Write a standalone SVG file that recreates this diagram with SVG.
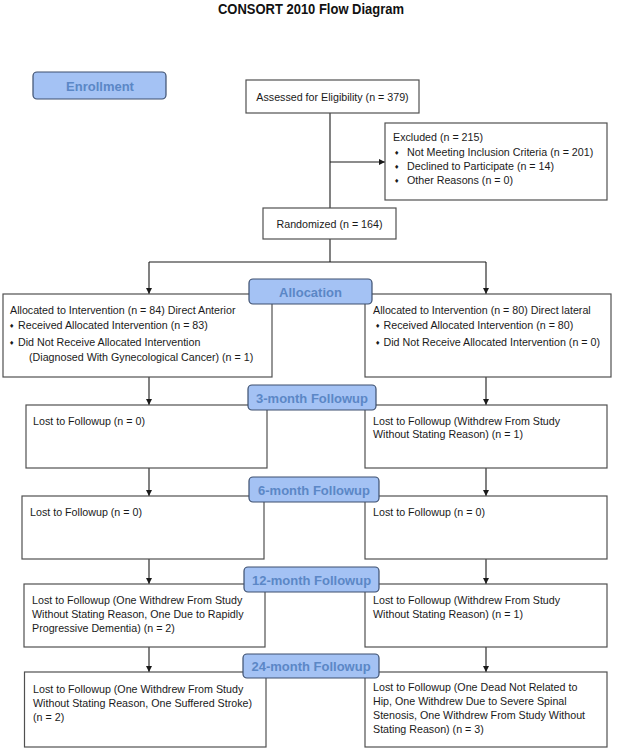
<svg xmlns="http://www.w3.org/2000/svg" width="620" height="750" viewBox="0 0 620 750">
<style>
.bg{fill:#ffffff}
.box{fill:#ffffff;stroke:#505050;stroke-width:1.2}
.lbl{fill:#a4c2f4;stroke:#3d4f6e;stroke-width:1.2}
.lt{font-family:"Liberation Sans",Arial,sans-serif;font-size:13px;font-weight:bold;fill:#5b87c6;text-anchor:middle}
.t{font-family:"Liberation Sans",Arial,sans-serif;font-size:10.7px;fill:#1a1a1a}
.c{text-anchor:middle}
.b{font-family:"DejaVu Sans",sans-serif;font-size:6px;fill:#1a1a1a}
.ln{fill:none;stroke:#1a1a1a;stroke-width:1.1}
.title{font-family:"Liberation Sans",Arial,sans-serif;font-size:14px;font-weight:bold;fill:#111;text-anchor:middle}
</style>
<defs>
<marker id="ah" viewBox="0 0 10 10" refX="10" refY="5" markerWidth="6" markerHeight="6" markerUnits="userSpaceOnUse" orient="auto">
<path d="M0,0 L10,5 L0,10 z" fill="#1a1a1a"/>
</marker>
</defs>
<rect class="bg" x="0" y="0" width="620" height="750"/>
<text class="title" x="311" y="14" textLength="186" lengthAdjust="spacingAndGlyphs">CONSORT 2010 Flow Diagram</text>

<g id="connectors">
<line class="ln" x1="330" y1="113" x2="330" y2="208"/>
<line class="ln" x1="330" y1="162" x2="385" y2="162" marker-end="url(#ah)"/>
<polyline class="ln" points="330,239 330,262"/>
<line class="ln" x1="149" y1="262" x2="486" y2="262"/>
<line class="ln" x1="149" y1="262" x2="149" y2="294" marker-end="url(#ah)"/>
<line class="ln" x1="486" y1="262" x2="486" y2="294" marker-end="url(#ah)"/>
<line class="ln" x1="149" y1="377" x2="149" y2="405" marker-end="url(#ah)"/>
<line class="ln" x1="486" y1="377" x2="486" y2="405" marker-end="url(#ah)"/>
<line class="ln" x1="149" y1="468" x2="149" y2="496" marker-end="url(#ah)"/>
<line class="ln" x1="486" y1="468" x2="486" y2="496" marker-end="url(#ah)"/>
<line class="ln" x1="149" y1="559" x2="149" y2="584" marker-end="url(#ah)"/>
<line class="ln" x1="486" y1="559" x2="486" y2="584" marker-end="url(#ah)"/>
<line class="ln" x1="149" y1="647" x2="149" y2="672" marker-end="url(#ah)"/>
<line class="ln" x1="486" y1="647" x2="486" y2="672" marker-end="url(#ah)"/>
</g>

<g id="enrollment">
<rect class="lbl" x="33" y="72" width="133" height="27" rx="4"/>
<text class="lt" x="100" y="90.5">Enrollment</text>
</g>

<g id="assessed">
<rect class="box" x="246" y="80" width="173" height="33"/>
<text class="t c" x="332.5" y="100.5">Assessed for Eligibility (n = 379)</text>
</g>

<g id="excluded">
<rect class="box" x="385" y="123" width="222" height="77"/>
<text class="t" x="393" y="141">Excluded (n = 215)</text>
<text class="b" x="394" y="154.5">♦</text>
<text class="t" x="407" y="155.5">Not Meeting Inclusion Criteria (n = 201)</text>
<text class="b" x="394" y="168.5">♦</text>
<text class="t" x="407" y="169.5">Declined to Participate (n = 14)</text>
<text class="b" x="394" y="182.5">♦</text>
<text class="t" x="407" y="183.5">Other Reasons (n = 0)</text>
</g>

<g id="randomized">
<rect class="box" x="263" y="208" width="133" height="31"/>
<text class="t c" x="329.5" y="227.5">Randomized (n = 164)</text>
</g>

<g id="alloc-left">
<rect class="box" x="3" y="294" width="269" height="83"/>
<text class="t" x="10" y="314">Allocated to Intervention (n = 84) Direct Anterior</text>
<text class="b" x="9" y="328">♦</text>
<text class="t" x="18" y="329">Received Allocated Intervention (n = 83)</text>
<text class="b" x="9" y="345">♦</text>
<text class="t" x="18" y="346">Did Not Receive Allocated Intervention</text>
<text class="t" x="29" y="361">(Diagnosed With Gynecological Cancer) (n = 1)</text>
</g>

<g id="alloc-right">
<rect class="box" x="365" y="294" width="246" height="83"/>
<text class="t" x="373" y="314">Allocated to Intervention (n = 80) Direct lateral</text>
<text class="b" x="375" y="328">♦</text>
<text class="t" x="383.5" y="329">Received Allocated Intervention (n = 80)</text>
<text class="b" x="375" y="345">♦</text>
<text class="t" x="383.5" y="346">Did Not Receive Allocated Intervention (n = 0)</text>
</g>

<g id="allocation">
<rect class="lbl" x="249" y="279" width="123" height="25" rx="4"/>
<text class="lt" x="310.5" y="296.5">Allocation</text>
</g>

<g id="fu3-left">
<rect class="box" x="26" y="405" width="241" height="63"/>
<text class="t" x="33" y="425">Lost to Followup (n = 0)</text>
</g>
<g id="fu3-right">
<rect class="box" x="365" y="405" width="242" height="63"/>
<text class="t" x="373" y="425">Lost to Followup (Withdrew From Study</text>
<text class="t" x="373" y="438">Without Stating Reason) (n = 1)</text>
</g>
<g id="fu3-label">
<rect class="lbl" x="248" y="385" width="128" height="25" rx="4"/>
<text class="lt" x="312" y="402.5">3-month Followup</text>
</g>

<g id="fu6-left">
<rect class="box" x="22" y="496" width="242" height="63"/>
<text class="t" x="30" y="516">Lost to Followup (n = 0)</text>
</g>
<g id="fu6-right">
<rect class="box" x="365" y="496" width="242" height="63"/>
<text class="t" x="373" y="516">Lost to Followup (n = 0)</text>
</g>
<g id="fu6-label">
<rect class="lbl" x="249" y="477" width="130" height="25" rx="4"/>
<text class="lt" x="314" y="494.5">6-month Followup</text>
</g>

<g id="fu12-left">
<rect class="box" x="24" y="584" width="241" height="63"/>
<text class="t" x="32" y="604">Lost to Followup (One Withdrew From Study</text>
<text class="t" x="32" y="618">Without Stating Reason, One Due to Rapidly</text>
<text class="t" x="32" y="632">Progressive Dementia) (n = 2)</text>
</g>
<g id="fu12-right">
<rect class="box" x="365" y="584" width="242" height="63"/>
<text class="t" x="373" y="604">Lost to Followup (Withdrew From Study</text>
<text class="t" x="373" y="618">Without Stating Reason) (n = 1)</text>
</g>
<g id="fu12-label">
<rect class="lbl" x="244" y="567" width="135" height="25" rx="4"/>
<text class="lt" x="311.5" y="584.5">12-month Followup</text>
</g>

<g id="fu24-left">
<rect class="box" x="24.5" y="672" width="241.5" height="75"/>
<text class="t" x="33" y="693">Lost to Followup (One Withdrew From Study</text>
<text class="t" x="33" y="707">Without Stating Reason, One Suffered Stroke)</text>
<text class="t" x="33" y="721">(n = 2)</text>
</g>
<g id="fu24-right">
<rect class="box" x="365" y="672" width="242" height="75"/>
<text class="t" x="373" y="691">Lost to Followup (One Dead Not Related to</text>
<text class="t" x="373" y="705">Hip, One Withdrew Due to Severe Spinal</text>
<text class="t" x="373" y="719">Stenosis, One Withdrew From Study Without</text>
<text class="t" x="373" y="733">Stating Reason) (n = 3)</text>
</g>
<g id="fu24-label">
<rect class="lbl" x="243" y="654" width="136" height="24" rx="4"/>
<text class="lt" x="311" y="671">24-month Followup</text>
</g>
</svg>
